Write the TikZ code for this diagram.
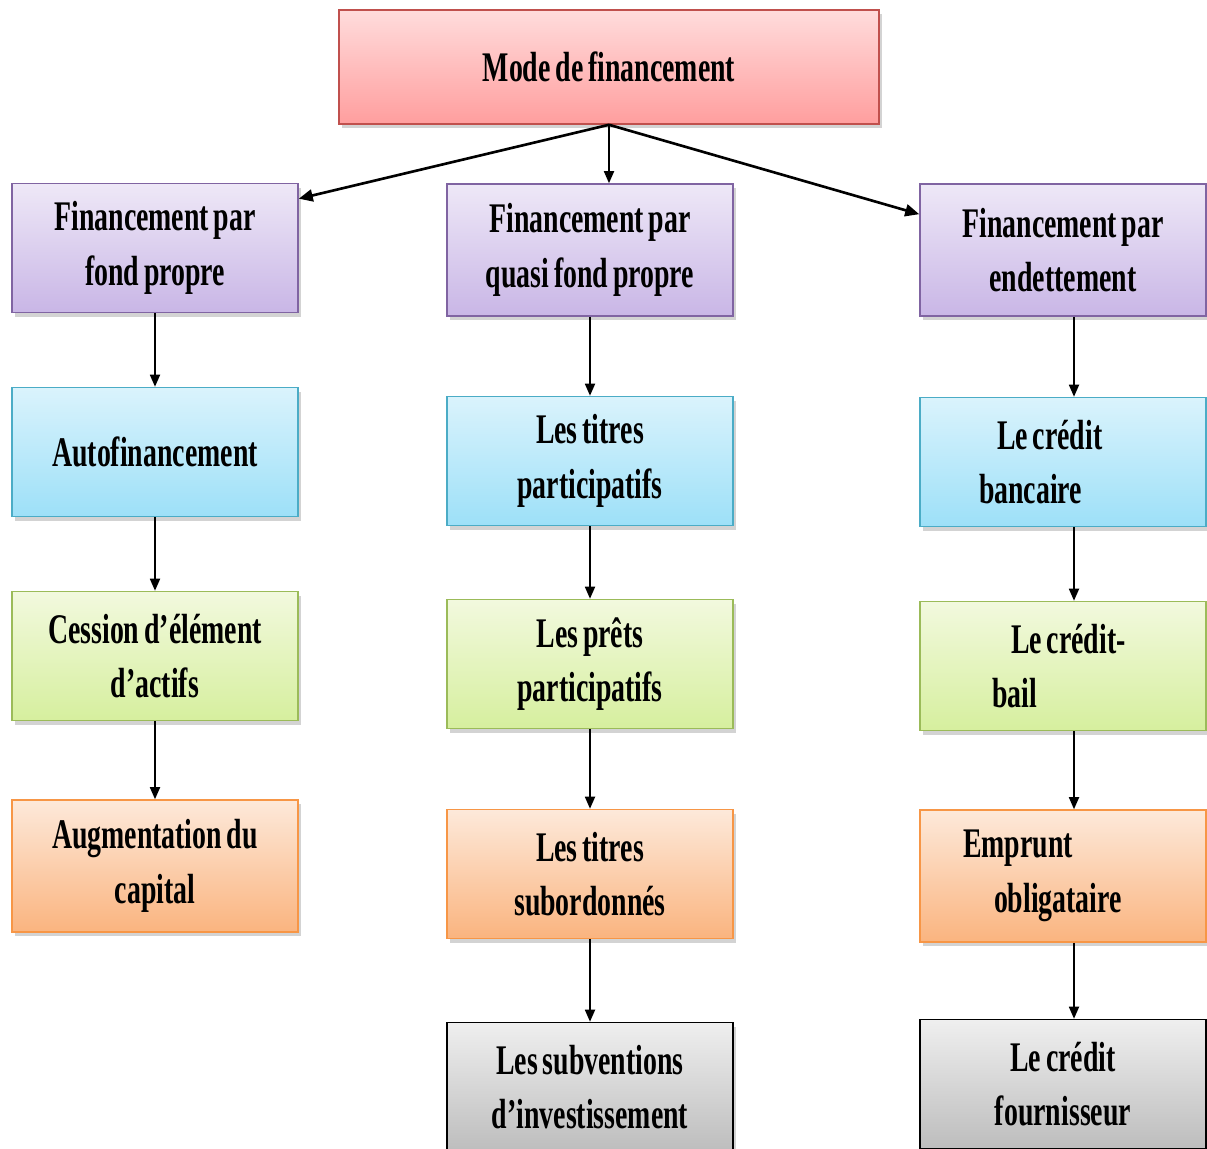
\documentclass[tikz,border=0pt]{standalone}
\usepackage{fontspec}
\setmainfont{Liberation Serif}[FakeStretch=0.66, WordSpace=0.7]
\usetikzlibrary{arrows.meta,shadows}

\definecolor{redline}{HTML}{C0504D}
\definecolor{redtop}{HTML}{FFDCDC}
\definecolor{redbot}{HTML}{FF9E9E}
\definecolor{purline}{HTML}{8064A2}
\definecolor{purtop}{HTML}{EEE8F7}
\definecolor{purbot}{HTML}{C9B6E6}
\definecolor{cyanline}{HTML}{4BACC6}
\definecolor{cyantop}{HTML}{DAF3FC}
\definecolor{cyanbot}{HTML}{9DE0F8}
\definecolor{grnline}{HTML}{9BBB59}
\definecolor{grntop}{HTML}{F2F9DE}
\definecolor{grnbot}{HTML}{D6EF9E}
\definecolor{orgline}{HTML}{F79646}
\definecolor{orgtop}{HTML}{FDE9DA}
\definecolor{orgbot}{HTML}{FAB47F}
\definecolor{gratop}{HTML}{EFEFEF}
\definecolor{grabot}{HTML}{BDBDBD}

\newcommand\tightsp{\spaceskip=0pt\relax\xspaceskip=0pt\relax}

\begin{document}
\begin{tikzpicture}[x=0.02cm, y=-0.02cm, font=\fontsize{24}{31}\selectfont\bfseries,
  fbox/.style={draw, line width=0.9pt, align=center, minimum width=5.72cm, minimum height=2.58cm,
    inner sep=2pt, drop shadow={shadow xshift=1.5pt, shadow yshift=-2.5pt, opacity=0.35}},
  fred/.style={fbox, draw=redline, top color=redtop, bottom color=redbot},
  fpur/.style={fbox, draw=purline, top color=purtop, bottom color=purbot},
  fcyan/.style={fbox, draw=cyanline, top color=cyantop, bottom color=cyanbot},
  fgrn/.style={fbox, draw=grnline, top color=grntop, bottom color=grnbot},
  forg/.style={fbox, draw=orgline, top color=orgtop, bottom color=orgbot},
  fgray/.style={fbox, draw=black, top color=gratop, bottom color=grabot},
  lft/.style={align=left, text width=5.72cm, inner xsep=0pt},
  a/.style={-{Triangle[length=2.4mm,width=2mm]}, line width=1pt},
  ad/.style={-{Triangle[length=2.8mm,width=2.4mm]}, line width=1.5pt}]
  \useasboundingbox (0,0) rectangle (1207,1149);

  % top
  \node[fred, minimum width=10.8cm, minimum height=2.28cm] (mode) at (609,67) {Mode de financement};

  % fond propre
  \node[fpur] (fp) at (155,248) {Financement par\\fond propre};
  \node[fcyan] (auto) at (155,452) {Autofinancement};
  \node[fgrn] (cess) at (155,656) {Cession d’élément\\d’actifs};
  \node[forg, minimum height=2.64cm] (augm) at (155,866) {Augmentation du\\capital};

  % quasi fond propre
  \node[fpur, minimum height=2.64cm] (qfp) at (590,250) {Financement par\\quasi fond propre};
  \node[fcyan] (titp) at (590,461) {Les titres\\participatifs};
  \node[fgrn] (pret) at (590,664) {Les prêts\\participatifs};
  \node[forg] (tits) at (590,874) {Les titres\\subordonnés};
  \node[fgray] (subv) at (590,1087) {Les subventions\\d’investissement};

  % endettement
  \node[fpur, minimum height=2.64cm] (endt) at (1063,250) {Financement par\\endettement};
  \node[fcyan, lft] (banc) at (1063,462) {\tightsp\hspace*{1.54cm}Le crédit\\\hspace*{1.18cm}bancaire};
  \node[fgrn, lft] (bail) at (1063,666) {\tightsp\hspace*{1.82cm}Le crédit-\\\hspace*{1.44cm}bail};
  \node[forg, minimum height=2.64cm, lft] (empr) at (1063,876) {\hspace*{0.86cm}Emprunt\\\hspace*{1.48cm}obligataire};
  \node[fgray] (four) at (1063,1084) {Le crédit\\fournisseur};

  % connectors
  \draw[ad] (mode.south) -- ([yshift=-0.32cm]fp.north east);
  \draw[a] (mode.south) -- (mode.south |- qfp.north);
  \draw[ad] (mode.south) -- ([yshift=-0.62cm]endt.north west);

  \draw[a] (fp) -- (auto);
  \draw[a] (auto) -- (cess);
  \draw[a] (cess) -- (augm);

  \draw[a] (qfp) -- (titp);
  \draw[a] (titp) -- (pret);
  \draw[a] (pret) -- (tits);
  \draw[a] (tits) -- (subv);

  \draw[a] ([xshift=0.22cm]endt.south) -- ([xshift=0.22cm]banc.north);
  \draw[a] ([xshift=0.22cm]banc.south) -- ([xshift=0.22cm]bail.north);
  \draw[a] ([xshift=0.22cm]bail.south) -- ([xshift=0.22cm]empr.north);
  \draw[a] ([xshift=0.22cm]empr.south) -- ([xshift=0.22cm]four.north);
\end{tikzpicture}
\end{document}
